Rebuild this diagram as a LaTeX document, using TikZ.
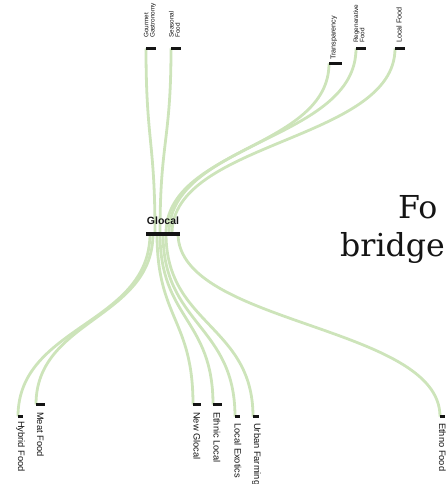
\documentclass[tikz,border=0pt]{standalone}
\usepackage{fontspec}
\newfontfamily\labfont{Liberation Sans}
\newfontfamily\serifbig{DejaVu Serif}
\definecolor{linkgreen}{RGB}{205,228,186}
\definecolor{inkblack}{RGB}{20,20,20}
\newcommand\lnk[3]{\draw[link] (#1) .. controls +(0,#3) and +(0,-#3) .. (#2);}
\begin{document}
\begin{tikzpicture}[x=1pt,y=-1pt,
  link/.style={draw=linkgreen,line width=2.8pt},
  leafbar/.style={draw=inkblack,line width=3pt},
  hubbar/.style={draw=inkblack,line width=4pt},
  toplab/.style={rotate=90,anchor=west,inner sep=0pt,font=\labfont\fontsize{7.2}{6.5}\selectfont,align=left,text=inkblack},
  smalltop/.style={toplab,font=\labfont\fontsize{6.4}{6.2}\selectfont},
  botlab/.style={rotate=-90,anchor=west,inner sep=0pt,font=\labfont\fontsize{9.3}{9}\selectfont,text=inkblack},
  bigtext/.style={anchor=base west,inner sep=0pt,font=\serifbig\fontsize{31.6}{38}\selectfont,text=inkblack}]
\useasboundingbox (0,0) rectangle (446,484);
\clip (0,0) rectangle (446,484);
% hub attachment points
\coordinate (h-gg) at (155,233.5);
\coordinate (h-sf) at (160,233.5);
\coordinate (h-tp) at (166,233.5);
\coordinate (h-rf) at (169,233.5);
\coordinate (h-lf) at (172,233.5);
\coordinate (h-hf) at (150,233.5);
\coordinate (h-mf) at (153,233.5);
\coordinate (h-ng) at (157,233.5);
\coordinate (h-el) at (160,233.5);
\coordinate (h-le) at (163,233.5);
\coordinate (h-uf) at (166,233.5);
\coordinate (h-ef) at (178,233.5);
% leaf points
\coordinate (gg) at (146,48.5);
\coordinate (sf) at (171,48.5);
\coordinate (tp) at (329,63.5);
\coordinate (rf) at (356,48.5);
\coordinate (lf) at (395,48.5);
\coordinate (hf) at (18,416.5);
\coordinate (mf) at (36,404.5);
\coordinate (ng) at (193,404.5);
\coordinate (el) at (213,404.5);
\coordinate (le) at (235,416.5);
\coordinate (uf) at (253,416.5);
\coordinate (ef) at (440,416.5);
% links
\lnk{h-gg}{gg}{-92.5}
\lnk{h-sf}{sf}{-92.5}
\lnk{h-tp}{tp}{-85}
\lnk{h-rf}{rf}{-92.5}
\lnk{h-lf}{lf}{-92.5}
\lnk{h-hf}{hf}{91.5}
\lnk{h-mf}{mf}{85.5}
\lnk{h-ng}{ng}{85.5}
\lnk{h-el}{el}{85.5}
\lnk{h-le}{le}{91.5}
\lnk{h-uf}{uf}{91.5}
\lnk{h-ef}{ef}{91.5}
% bars
\coordinate (hubl) at (146,233.5);
\draw[hubbar] (hubl) -- ++(34,0);
\draw[leafbar] (gg) -- ++(10,0);
\draw[leafbar] (sf) -- ++(10,0);
\draw[leafbar] (tp) -- ++(13,0);
\draw[leafbar] (rf) -- ++(10,0);
\draw[leafbar] (lf) -- ++(10,0);
\draw[leafbar] (hf) -- ++(5,0);
\draw[leafbar] (mf) -- ++(9,0);
\draw[leafbar] (ng) -- ++(8,0);
\draw[leafbar] (el) -- ++(9,0);
\draw[leafbar] (le) -- ++(5,0);
\draw[leafbar] (uf) -- ++(6,0);
\draw[leafbar] (ef) -- ++(5,0);
% labels
\node[font=\labfont\bfseries\fontsize{10.5}{12}\selectfont,text=inkblack] (hub) at (163,221) {Glocal};
\node[smalltop] (gg-l) at (150,38) {Gourmet\\Gastronomy};
\node[smalltop] (sf-l) at (174.5,38) {Seasonal\\Food};
\node[toplab] (tp-l) at (334,60) {Transparency};
\node[smalltop] (rf-l) at (359,43) {Regenerative\\Food};
\node[toplab] (lf-l) at (399,43) {Local Food};
\node[botlab] (hf-l) at (20.5,421) {Hybrid Food};
\node[botlab] (mf-l) at (40.5,412) {Meat Food};
\node[botlab] (ng-l) at (197,412) {New Glocal};
\node[botlab] (el-l) at (217,412) {Ethnic Local};
\node[botlab] (le-l) at (238,423) {Local Exotics};
\node[botlab] (uf-l) at (256.5,423) {Urban Farming};
\node[botlab] (ef-l) at (442.5,423) {Ethno Food};
\node[bigtext] (t1) at (398,218) {Fo};
\node[bigtext] (t2) at (340,256) {bridge};
\end{tikzpicture}
\end{document}
